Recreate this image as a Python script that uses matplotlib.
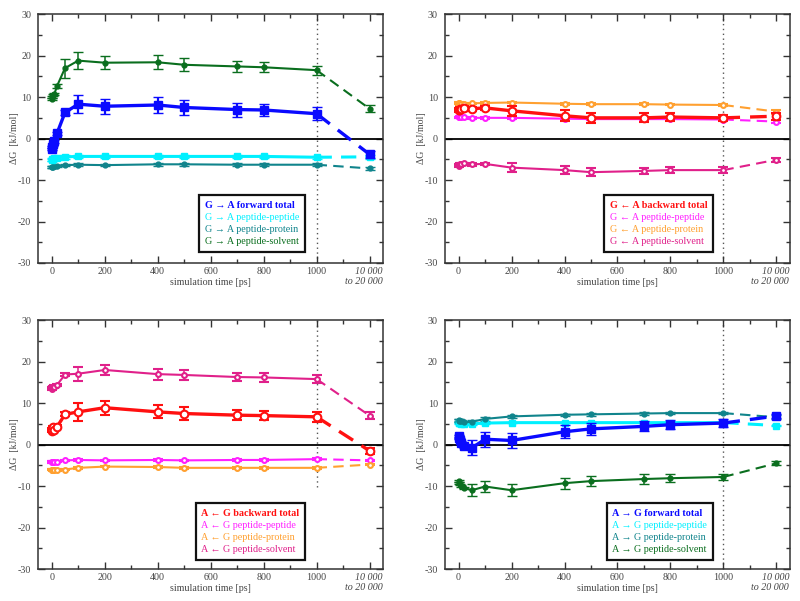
import matplotlib
matplotlib.use("Agg")
import matplotlib.pyplot as plt
from matplotlib.lines import Line2D
from matplotlib.transforms import ScaledTranslation

plt.rcParams['font.family'] = ['Liberation Serif', 'DejaVu Serif']
plt.rcParams['axes.unicode_minus'] = False

# ---------------- data ----------------
times = [0, 2, 5, 10, 20, 50, 100, 200, 400, 500, 700, 800, 1000]
long_pos = 1200          # axis slot used for the 10 000-20 000 ps block
xtick_vals = [0, 200, 400, 600, 800, 1000, 1200]
xtick_labels = ['0', '200', '400', '600', '800', '1000', '10 000\nto 20 000']

# Panel 1: G -> A forward
p1_total = [-2.5, -2.0, -1.4, -0.7, 1.3, 6.3, 8.3, 7.8, 8.1, 7.5, 7.0, 6.9, 6.0, -3.8]
p1_total_err = [0.3, 0.3, 0.3, 0.3, 0.4, 0.5, 2.2, 1.8, 2.0, 1.8, 1.7, 1.5, 1.5, 0.8]
p1_pp = [-5.2, -5.0, -4.9, -4.8, -4.7, -4.4, -4.3, -4.3, -4.3, -4.3, -4.3, -4.3, -4.5, -4.4]
p1_pp_err = [0.3, 0.3, 0.3, 0.3, 0.4, 0.5, 0.4, 0.4, 0.4, 0.4, 0.4, 0.4, 0.4, 0.5]
p1_prot = [-6.9, -6.9, -6.8, -6.7, -6.6, -6.4, -6.3, -6.4, -6.2, -6.2, -6.3, -6.3, -6.3, -7.2]
p1_prot_err = [0.2, 0.2, 0.2, 0.2, 0.3, 0.3, 0.3, 0.3, 0.3, 0.3, 0.3, 0.3, 0.3, 0.3]
p1_solv = [9.5, 10.0, 10.5, 10.8, 12.7, 17.0, 18.8, 18.3, 18.4, 17.8, 17.4, 17.2, 16.5, 7.2]
p1_solv_err = [0.3, 0.3, 0.3, 0.3, 0.4, 2.3, 2.0, 1.5, 1.7, 1.6, 1.3, 1.2, 1.1, 0.8]

# Panel 2: G <- A backward
p2_total = [6.8, 7.0, 7.2, 7.1, 7.4, 7.2, 7.4, 6.7, 5.5, 5.0, 5.0, 5.2, 5.0, 5.4]
p2_total_err = [0.3, 0.3, 0.3, 0.3, 0.4, 0.5, 0.5, 1.2, 1.3, 1.2, 1.1, 1.0, 0.8, 0.8]
p2_pp = [5.1, 5.1, 5.2, 5.2, 5.1, 5.0, 5.0, 5.0, 4.8, 4.7, 4.7, 4.7, 4.6, 4.1]
p2_pp_err = [0.2] * 13 + [0.3]
p2_prot = [8.6, 8.5, 8.4, 8.4, 8.4, 8.5, 8.6, 8.7, 8.4, 8.3, 8.3, 8.2, 8.1, 6.5]
p2_prot_err = [0.2] * 13 + [0.5]
p2_solv = [-6.6, -6.4, -6.2, -6.1, -6.0, -6.2, -6.1, -7.0, -7.6, -8.1, -7.8, -7.6, -7.6, -5.1]
p2_solv_err = [0.2, 0.2, 0.2, 0.2, 0.2, 0.3, 0.3, 1.0, 1.0, 1.0, 0.8, 0.8, 0.7, 0.5]

# Panel 3: A <- G backward
p3_total = [3.3, 3.6, 4.2, 3.6, 4.3, 7.3, 7.9, 8.9, 7.9, 7.5, 7.1, 7.0, 6.7, -1.5]
p3_total_err = [0.3, 0.3, 0.3, 0.3, 0.4, 0.5, 2.2, 1.7, 1.6, 1.5, 1.2, 1.1, 1.2, 0.8]
p3_pp = [-4.2, -4.2, -4.1, -4.1, -4.1, -3.8, -3.7, -3.8, -3.7, -3.8, -3.7, -3.7, -3.5, -3.8]
p3_pp_err = [0.2] * 14
p3_prot = [-6.0, -6.0, -6.1, -6.1, -6.1, -6.0, -5.6, -5.3, -5.4, -5.6, -5.6, -5.6, -5.6, -4.8]
p3_prot_err = [0.2] * 14
p3_solv = [13.5, 13.7, 13.9, 14.0, 14.4, 16.9, 17.1, 18.0, 17.0, 16.8, 16.3, 16.2, 15.8, 7.0]
p3_solv_err = [0.3, 0.3, 0.3, 0.3, 0.3, 0.3, 1.7, 1.3, 1.3, 1.2, 1.0, 1.0, 1.0, 0.8]

# Panel 4: A -> G forward
p4_total = [2.0, 1.6, 1.2, 0.5, -0.4, -0.8, 1.3, 1.0, 3.1, 3.8, 4.4, 4.8, 5.2, 6.9]
p4_total_err = [0.3, 0.3, 0.3, 0.3, 0.4, 1.8, 1.8, 1.8, 1.6, 1.4, 1.2, 1.1, 0.9, 0.6]
p4_pp = [5.3, 5.2, 5.1, 5.0, 5.0, 5.0, 5.2, 5.3, 5.3, 5.3, 5.3, 5.3, 5.3, 4.6]
p4_pp_err = [0.2] * 14
p4_prot = [5.8, 5.9, 5.6, 5.7, 5.4, 5.5, 6.2, 6.8, 7.2, 7.3, 7.5, 7.6, 7.6, 6.6]
p4_prot_err = [0.3, 0.3, 0.3, 0.3, 0.3, 0.4, 0.5, 0.4, 0.3, 0.3, 0.3, 0.3, 0.3, 0.5]
p4_solv = [-8.8, -9.2, -9.6, -10.0, -10.4, -11.0, -10.1, -11.0, -9.3, -8.8, -8.3, -8.1, -7.8, -4.5]
p4_solv_err = [0.2, 0.2, 0.2, 0.2, 0.3, 1.5, 1.3, 1.4, 1.3, 1.2, 1.1, 1.0, 0.8, 0.5]

BLUE = '#0a0aff'
CYAN = '#00f0ff'
TEAL = '#10848c'
GREEN = '#0a6e1e'
RED = '#ff1010'
MAGENTA = '#ff20ff'
ORANGE = '#ffa030'
PINK = '#e0208a'

forward_labels1 = ['G \u2192 A forward total', 'G \u2192 A peptide-peptide',
                   'G \u2192 A peptide-protein', 'G \u2192 A peptide-solvent']
backward_labels2 = ['G \u2190 A backward total', 'G \u2190 A peptide-peptide',
                    'G \u2190 A peptide-protein', 'G \u2190 A peptide-solvent']
backward_labels3 = ['A \u2190 G backward total', 'A \u2190 G peptide-peptide',
                    'A \u2190 G peptide-protein', 'A \u2190 G peptide-solvent']
forward_labels4 = ['A \u2192 G forward total', 'A \u2192 G peptide-peptide',
                   'A \u2192 G peptide-protein', 'A \u2192 G peptide-solvent']

TXT = '#444444'


def draw_series(ax, vals, errs, color, marker, ms, lw, filled, total=False, z=3):
    mfc = color if filled else 'white'
    elw = 1.6 if total else 1.1
    mew = 1.0 if filled else 1.5
    ax.errorbar(times, vals[:-1], yerr=errs[:-1], color=color, lw=lw,
                marker=marker, ms=ms, mfc=mfc, mec=color, mew=mew,
                capsize=3.5, elinewidth=elw, capthick=elw, zorder=z)
    ax.plot([times[-1], long_pos], [vals[-2], vals[-1]], color=color, lw=lw,
            ls=(0, (5, 3)), zorder=z)
    ax.errorbar([long_pos], [vals[-1]], yerr=[errs[-1]], color=color, lw=lw,
                marker=marker, ms=ms, mfc=mfc, mec=color, mew=mew,
                capsize=3.5, elinewidth=elw, capthick=elw, zorder=z)


def setup_axes(fig, ax, vline_bottom=-30):
    ax.set_xlim(-52, 1250)
    ax.set_ylim(-30, 30)
    ax.axhline(0, color='black', lw=1.3, zorder=2)
    ax.plot([1000, 1000], [vline_bottom, 30], color='#555555', lw=1.0,
            ls=(0, (1, 2.5)), zorder=1)
    ax.set_xticks(xtick_vals)
    ax.set_xticklabels(xtick_labels)
    ax.set_xticks([100, 300, 500, 700, 900, 1100], minor=True)
    ax.set_yticks([-30, -20, -10, 0, 10, 20, 30])
    ax.set_yticks([-25, -15, -5, 5, 15, 25], minor=True)
    ax.tick_params(which='both', direction='in', top=True, right=True,
                   labelsize=7.2, colors='#333333', labelcolor=TXT, width=1.0)
    ax.tick_params(which='major', length=5)
    ax.tick_params(which='minor', length=3)
    ax.tick_params(axis='x', pad=3)
    ax.tick_params(axis='y', pad=5)
    for lbl in ax.get_xticklabels():
        lbl.set_va('top')
    lbl = ax.get_xticklabels()[-1]
    lbl.set_fontstyle('italic')
    lbl.set_linespacing(1.05)
    lbl.set_ha('center')
    lbl.set_multialignment('right')
    lbl.set_transform(lbl.get_transform() +
                      ScaledTranslation(-6 / 100, 0, fig.dpi_scale_trans))
    for s in ax.spines.values():
        s.set_color('#333333')
        s.set_linewidth(1.1)
    ax.set_xlabel('simulation time [ps]', fontsize=7.2, color=TXT)
    ax.xaxis.label.set_va('center')
    ax.xaxis.set_label_coords(0.5, -0.078)
    ax.set_ylabel('\u0394G  [kJ/mol]', fontsize=7.0, color=TXT)
    ax.yaxis.label.set_va('center')
    ax.yaxis.set_label_coords(-0.067, 0.5)


def add_legend(ax, labels, colors, bbox):
    handles = [Line2D([], [], ls='none') for _ in labels]
    leg = ax.legend(handles, labels, loc='lower right', bbox_to_anchor=bbox,
                    handlelength=0, handletextpad=0, fancybox=False,
                    framealpha=1, edgecolor='#111111', fontsize=7.3,
                    labelspacing=0.3, borderpad=0.55, borderaxespad=0)
    leg.get_frame().set_linewidth(1.6)
    for t, c in zip(leg.get_texts(), colors):
        t.set_color(c)
    leg.get_texts()[0].set_fontweight('bold')
    leg.set_zorder(10)


fig = plt.figure(figsize=(8.0, 6.01), dpi=100)
ax1 = fig.add_axes([0.0475, 0.5624, 0.431, 0.414])
ax2 = fig.add_axes([0.556, 0.5624, 0.431, 0.414])
ax3 = fig.add_axes([0.0475, 0.0532, 0.431, 0.414])
ax4 = fig.add_axes([0.556, 0.0532, 0.431, 0.414])

# Panel 1
setup_axes(fig, ax1)
draw_series(ax1, p1_prot, p1_prot_err, TEAL, 'o', 3.5, 1.5, True)
draw_series(ax1, p1_pp, p1_pp_err, CYAN, 's', 4, 2.2, True)
draw_series(ax1, p1_solv, p1_solv_err, GREEN, 'o', 3.5, 1.5, True)
draw_series(ax1, p1_total, p1_total_err, BLUE, 's', 5.5, 2.4, True, total=True, z=4)
add_legend(ax1, forward_labels1, [BLUE, CYAN, TEAL, GREEN], (0.774, 0.044))

# Panel 2
setup_axes(fig, ax2)
draw_series(ax2, p2_pp, p2_pp_err, MAGENTA, 'o', 3.5, 1.5, False)
draw_series(ax2, p2_prot, p2_prot_err, ORANGE, 'o', 3.5, 1.5, False)
draw_series(ax2, p2_solv, p2_solv_err, PINK, 'o', 3.5, 1.5, False)
draw_series(ax2, p2_total, p2_total_err, RED, 'o', 5.5, 2.4, False, total=True, z=4)
add_legend(ax2, backward_labels2, [RED, MAGENTA, ORANGE, PINK], (0.777, 0.044))

# Panel 3
setup_axes(fig, ax3, vline_bottom=-10.3)
draw_series(ax3, p3_pp, p3_pp_err, MAGENTA, 'o', 3.5, 1.5, False)
draw_series(ax3, p3_prot, p3_prot_err, ORANGE, 'o', 3.5, 1.5, False)
draw_series(ax3, p3_solv, p3_solv_err, PINK, 'o', 3.5, 1.5, False)
draw_series(ax3, p3_total, p3_total_err, RED, 'o', 5.5, 2.4, False, total=True, z=4)
add_legend(ax3, backward_labels3, [RED, MAGENTA, ORANGE, PINK], (0.774, 0.036))

# Panel 4
setup_axes(fig, ax4)
draw_series(ax4, p4_pp, p4_pp_err, CYAN, 's', 4, 2.2, True)
draw_series(ax4, p4_prot, p4_prot_err, TEAL, 'o', 3.5, 1.5, True)
draw_series(ax4, p4_solv, p4_solv_err, GREEN, 'o', 3.5, 1.5, True)
draw_series(ax4, p4_total, p4_total_err, BLUE, 's', 5.5, 2.4, True, total=True, z=4)
add_legend(ax4, forward_labels4, [BLUE, CYAN, TEAL, GREEN], (0.777, 0.036))

fig.savefig('out.png', dpi=100)
